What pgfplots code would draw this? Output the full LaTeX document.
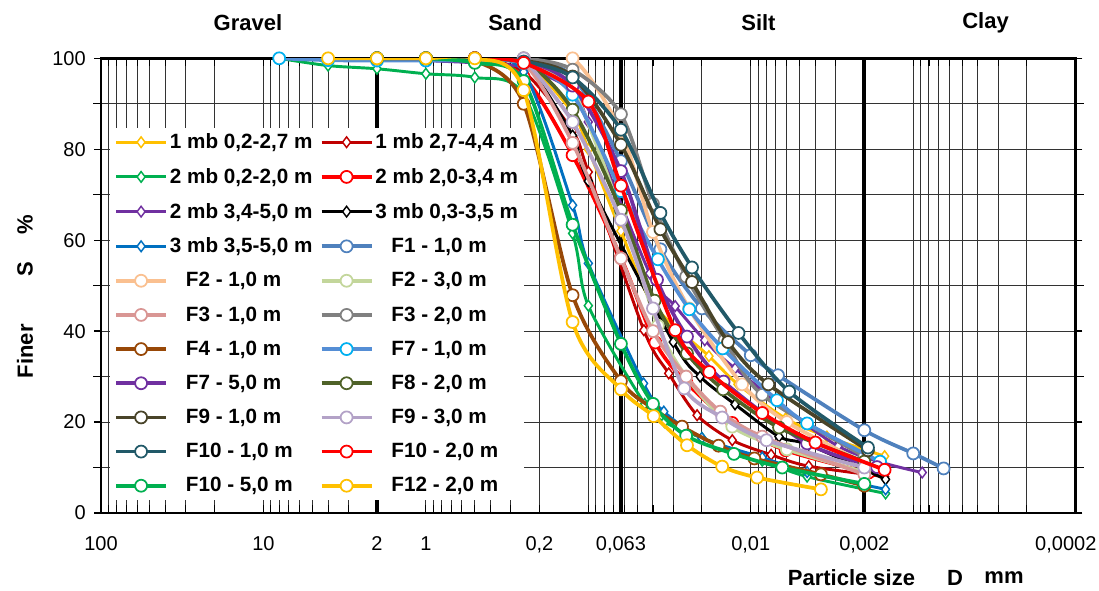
\documentclass[border=0pt]{standalone}
\usepackage{fontspec}
\setmainfont{Liberation Sans}
\usepackage{pgfplots}
\pgfplotsset{compat=1.18}

\definecolor{cYel}{HTML}{FFC000}
\definecolor{cDred}{HTML}{C00000}
\definecolor{cGrn}{HTML}{00B050}
\definecolor{cRed}{HTML}{FF0000}
\definecolor{cPur}{HTML}{7030A0}
\definecolor{cBlu}{HTML}{0070C0}
\definecolor{cSteel}{HTML}{4F81BD}
\definecolor{cLor}{HTML}{FAC090}
\definecolor{cLgr}{HTML}{C3D69B}
\definecolor{cPink}{HTML}{D99694}
\definecolor{cGray}{HTML}{808080}
\definecolor{cBrn}{HTML}{984807}
\definecolor{cF7}{HTML}{558ED5}
\definecolor{cCyan}{HTML}{00B0F0}
\definecolor{cOli}{HTML}{4F6228}
\definecolor{cDoli}{HTML}{494429}
\definecolor{cLav}{HTML}{B3A2C7}
\definecolor{cTeal}{HTML}{215968}

\pgfplotsset{
  circ/.style={smooth, tension=0.5, line width=2.8pt, color=#1, mark=*, mark size=4.5pt,
    mark options={fill=white, draw=#1, line width=1.3pt}},
  diam/.style={smooth, tension=0.5, line width=2.2pt, color=#1, mark=diamond*, mark size=4pt,
    mark options={fill=white, draw=#1, line width=1.1pt}},
}

\newcommand{\tf}{\fontsize{15}{17}\selectfont}
\newcommand{\lf}{\fontsize{15.5}{17}\selectfont}
\newcommand{\labf}{\fontsize{16.5}{18}\selectfont\bfseries}
\newcommand{\Fsp}{\hspace*{12pt}}

\begin{document}
\begin{tikzpicture}
\begin{axis}[
  at={(0,0)}, anchor=south west,
  scale only axis, width=731pt, height=341pt,
  xmode=log, x dir=reverse, xmin=1e-4, xmax=100,
  ymin=0, ymax=100,
  clip mode=individual,
  axis line style={line width=2.2pt, black},
  xtick={100,10,2,1,0.2,0.063,0.01,0.002,0.000115},
  xticklabels={100,10,2,1,{0,2},{0,063},{0,01},{0,002},{0,0002}},
  major x tick style={draw=none},
  minor xtick={0.0001,0.0002,0.0003,0.0004,0.0005,0.0006,0.0007,0.0008,0.0009,
    0.001,0.002,0.003,0.004,0.005,0.006,0.007,0.008,0.009,
    0.01,0.02,0.03,0.04,0.05,0.06,0.07,0.08,0.09,
    0.1,0.2,0.3,0.4,0.5,0.6,0.7,0.8,0.9,
    1,2,3,4,5,6,7,8,9,10,20,30,40,50,60,70,80,90,100},
  xminorgrids=true,
  minor x tick style={line width=0.8pt, black},
  xtick align=inside,
  minor tick length=6pt,
  extra x ticks={2,0.063,0.002},
  extra x tick labels={},
  extra x tick style={grid=major, major grid style={black, line width=3pt},
    major tick style={line width=3pt, black}, major tick length=6pt},
  ytick={0,20,40,60,80,100},
  yticklabels={0,20,40,60,80,100},
  minor ytick={10,30,50,70,90},
  ymajorgrids=true, yminorgrids=true,
  ytick align=outside,
  y tick style={line width=1pt, black},
  major tick length=5pt,
  grid style={black!80, line width=0.75pt},
  minor grid style={black!80, line width=0.75pt},
  tick label style={font=\tf},
  xticklabel style={yshift=-14pt},
  yticklabel style={xshift=-3pt},
  legend columns=2,
  legend cell align=left,
  legend image code/.code={\draw[mark repeat=2,mark phase=2] plot coordinates {(0pt,0pt) (18.75pt,0pt) (37.5pt,0pt)};},
  legend style={at={(0.0092,0.848)}, anchor=north west, draw=none, fill=white,
    font=\lf\bfseries, row sep=10.3pt, inner sep=3pt,
    nodes={inner sep=1.5pt},
    /tikz/every even column/.append style={column sep=4pt}},
]
% 1 mb 0,2-2,7 m
\addplot[diam=cYel] coordinates {(2,100)(1,100)(0.5,100)(0.25,99.5)(0.125,88)(0.1,80)(0.063,62)(0.04,46)(0.0181,34.5)(0.012,28.3)(0.0061,20.8)(0.0034,16.8)(0.0015,12.5)};
\addlegendentry{1 mb 0,2-2,7 m}
% 1 mb 2,7-4,4 m
\addplot[diam=cDred] coordinates {(2,100)(1,100)(0.5,100)(0.25,97)(0.125,84)(0.1,75)(0.0455,40.2)(0.032,30.7)(0.0214,21.5)(0.013,16)(0.0075,12.8)(0.0044,10.3)(0.0015,8)};
\addlegendentry{1 mb 2,7-4,4 m}
% 2 mb 0,2-2,0 m
\addplot[diam=cGrn] coordinates {(8,100)(4,98.4)(2,97.7)(1,96.6)(0.5,95.8)(0.25,92)(0.125,61.5)(0.1,45.6)(0.045,24)(0.034,20)(0.02,16.5)(0.0085,11.5)(0.0045,8)(0.00148,4.3)};
\addlegendentry{2 mb 0,2-2,0 m}
% 2 mb 2,0-3,4 m
\addplot[circ=cRed] coordinates {(2,100)(1,100)(0.5,100)(0.25,95.9)(0.125,78.7)(0.063,56.2)(0.0387,37.5)(0.0249,28.7)(0.013,19.8)(0.0061,13.8)(0.00188,8.9)};
\addlegendentry{2 mb 2,0-3,4 m}
% 2 mb 3,4-5,0 m
\addplot[diam=cPur] coordinates {(2,100)(1,99.5)(0.5,99)(0.25,98)(0.125,93)(0.1,86)(0.0419,52.7)(0.0292,45.5)(0.0192,38)(0.0125,31.8)(0.0029,14.7)(0.00088,8.9)};
\addlegendentry{2 mb 3,4-5,0 m}
% 3 mb 0,3-3,5 m
\addplot[diam=black] coordinates {(2,100)(1,100)(0.5,100)(0.25,99)(0.125,83)(0.1,73)(0.03,37.6)(0.0205,30)(0.0125,23.9)(0.0067,16.8)(0.0044,15)(0.00148,7.4)};
\addlegendentry{3 mb 0,3-3,5 m}
% 3 mb 3,5-5,0 m
\addplot[diam=cBlu] coordinates {(8,100)(4,100)(2,100)(1,100)(0.5,99.5)(0.25,97)(0.125,67.7)(0.1,54.9)(0.0457,28.5)(0.0343,22.3)(0.02,16.5)(0.0085,12.2)(0.0045,9)(0.00148,5.2)};
\addlegendentry{3 mb 3,5-5,0 m}
% F1 - 1,0 m
\addplot[circ=cSteel] coordinates {(2,100)(1,100)(0.5,100)(0.25,99.5)(0.125,96)(0.063,77.4)(0.036,58)(0.02,45)(0.01,34.7)(0.0068,30.3)(0.002,18.2)(0.001,13.1)(0.00065,9.8)};
\addlegendentry{\Fsp F1 - 1,0 m}
% F2 - 1,0 m
\addplot[circ=cLor] coordinates {(0.5,100)(0.25,100)(0.125,100)(0.063,84)(0.04,61.8)(0.024,45)(0.0113,28.3)(0.006,20)(0.002,11)};
\addlegendentry{\Fsp F2 - 1,0 m}
% F2 - 3,0 m
\addplot[circ=cLgr] coordinates {(0.5,100)(0.25,99)(0.125,93)(0.063,66)(0.0373,41.2)(0.025,30)(0.013,19)(0.006,14)(0.002,9)};
\addlegendentry{\Fsp F2 - 3,0 m}
% F3 - 1,0 m
\addplot[circ=cPink] coordinates {(0.5,100)(0.25,99)(0.125,81.4)(0.063,56)(0.04,40)(0.025,30)(0.0154,22.3)(0.0085,16.8)(0.002,8.5)};
\addlegendentry{\Fsp F3 - 1,0 m}
% F3 - 2,0 m
\addplot[circ=cGray] coordinates {(0.5,100)(0.25,100)(0.125,97.5)(0.063,87.7)(0.04,68)(0.025,52)(0.0145,38)(0.0085,26)(0.002,12.5)};
\addlegendentry{\Fsp F3 - 2,0 m}
% F4 - 1,0 m
\addplot[circ=cBrn] coordinates {(2,100)(1,100)(0.5,99.5)(0.25,90)(0.125,47.9)(0.063,29)(0.04,23)(0.0265,19)(0.0158,14.8)(0.0095,12)(0.0037,8.5)(0.002,6)};
\addlegendentry{\Fsp F4 - 1,0 m}
% F7 - 1,0 m
\addplot[smooth, tension=0.5, line width=2.8pt, color=cF7, mark=*, mark size=4.5pt,
    mark options={fill=white, draw=cCyan, line width=1.3pt}]
  coordinates {(8,100)(4,99.6)(2,99.5)(1,99.5)(0.5,99.5)(0.25,99)(0.125,92)(0.063,70.8)(0.0373,55.8)(0.0239,44.8)(0.0149,36.2)(0.0069,24.8)(0.0045,19.7)(0.0016,11.3)};
\addlegendentry{\Fsp F7 - 1,0 m}
% F7 - 5,0 m
\addplot[circ=cPur] coordinates {(2,100)(1,100)(0.5,100)(0.25,99.5)(0.125,94)(0.063,75.2)(0.0378,51.3)(0.0247,38.8)(0.0147,28.9)(0.0045,15.3)(0.00167,10.1)};
\addlegendentry{\Fsp F7 - 5,0 m}
% F8 - 2,0 m
\addplot[circ=cOli] coordinates {(2,100)(1,100)(0.5,100)(0.25,99.5)(0.125,88.7)(0.063,66.6)(0.0391,46.7)(0.0247,35.1)(0.0148,27.2)(0.0067,18.8)(0.002,11.3)};
\addlegendentry{\Fsp F8 - 2,0 m}
% F9 - 1,0 m
\addplot[circ=cDoli] coordinates {(0.5,100)(0.25,99.5)(0.125,96)(0.063,81)(0.036,62.4)(0.023,50.8)(0.0138,37.6)(0.0078,28.3)(0.0019,13.8)};
\addlegendentry{\Fsp F9 - 1,0 m}
% F9 - 3,0 m
\addplot[circ=cLav] coordinates {(0.25,100)(0.125,86)(0.063,64.5)(0.04,45)(0.0257,27.4)(0.015,21)(0.008,16)(0.002,10)};
\addlegendentry{\Fsp F9 - 3,0 m}
% F10 - 1,0 m
\addplot[circ=cTeal] coordinates {(2,100)(1,100)(0.5,100)(0.25,99.3)(0.125,95.8)(0.063,84.3)(0.036,66)(0.023,54)(0.0119,39.6)(0.0058,26.7)(0.0019,14.4)};
\addlegendentry{\Fsp F10 - 1,0 m}
% F10 - 2,0 m
\addplot[circ=cRed] coordinates {(0.5,100)(0.25,99)(0.1,90.5)(0.063,72)(0.0292,40.2)(0.018,31)(0.0085,22)(0.004,15.5)(0.0015,9.5)};
\addlegendentry{\Fsp F10 - 2,0 m}
% F10 - 5,0 m
\addplot[circ=cGrn] coordinates {(2,100)(1,100)(0.5,99)(0.25,95)(0.125,63.4)(0.063,37.2)(0.04,24)(0.025,17)(0.0127,13)(0.0064,10)(0.002,6.4)};
\addlegendentry{\Fsp F10 - 5,0 m}
% F12 - 2,0 m
\addplot[circ=cYel] coordinates {(4,100)(2,100)(1,100)(0.5,100)(0.25,93)(0.125,42)(0.063,27.2)(0.0396,21.3)(0.0247,14.9)(0.015,10.2)(0.00915,7.8)(0.0037,5.2)};
\addlegendentry{\Fsp F12 - 2,0 m}

\node[font=\labf] at (axis cs:12.45,107.9) {Gravel};
\node[font=\labf] at (axis cs:0.282,107.9) {Sand};
\node[font=\labf] at (axis cs:0.00897,107.9) {Silt};
\node[font=\labf] at (axis cs:0.000359,107.9) {Clay};
\node[font=\labf] at (axis cs:0.0024,-14.3) {Particle size};
\node[font=\labf] at (axis cs:0.000553,-14.3) {D};
\node[font=\labf] at (axis cs:0.000276,-14.3) {mm};
\end{axis}
\node[font=\labf, rotate=90] at (-57pt,121.4pt) {Finer};
\node[font=\labf, rotate=90] at (-57pt,182.8pt) {S};
\node[font=\labf, rotate=90] at (-57pt,215.9pt) {\%};
\pgfresetboundingbox
\useasboundingbox (-75.75pt,-58.5pt) rectangle (748.5pt,384.75pt);
\end{tikzpicture}
\end{document}
